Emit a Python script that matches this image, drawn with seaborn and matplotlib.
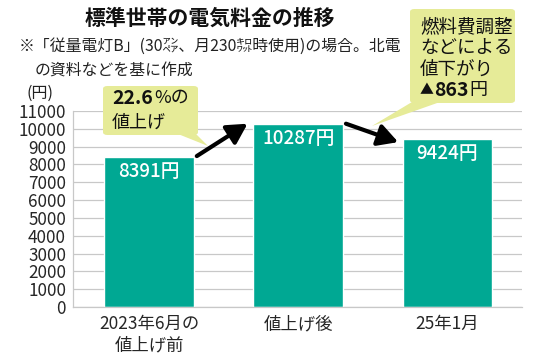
import matplotlib
matplotlib.use("Agg")
import matplotlib.pyplot as plt
import seaborn as sns
import pandas as pd
from matplotlib.patches import FancyBboxPatch, Polygon

sns.set_theme(style="white")
plt.rcParams['font.family'] = ['Noto Sans CJK JP', 'DejaVu Sans']

categories = ["2023年6月の\n値上げ前", "値上げ後", "25年1月"]
values = [8391, 10287, 9424]
value_labels = ["8391円", "10287円", "9424円"]
yticks = list(range(0, 11001, 1000))

title = "標準世帯の電気料金の推移"
note1 = "※「従量電灯B」(30㌂、月230㌗時使用)の場合。北電"
note2 = "の資料などを基に作成"
unit = "(円)"
call1_bold = "22.6"
call1_rest = "%の"
call1_line2 = "値上げ"
call2_lines = ["燃料費調整", "などによる", "値下がり"]
call2_last_sym = "▲"
call2_last_num = "863"
call2_last_unit = "円"

W, H = 550, 360
fig = plt.figure(figsize=(5.5, 3.6), dpi=100)
ax = fig.add_axes([73 / W, 1 - 307 / H, (522 - 73) / W, (307 - 111) / H])

df = pd.DataFrame({"cat": categories, "val": values})
BAR = "#00a893"
sns.barplot(data=df, x="cat", y="val", color=BAR, saturation=1, width=0.6, ax=ax)
ax.set_xlim(-0.51, 2.5)
ax.set_ylim(0, 11000)
ax.set_yticks(yticks)
ax.set_yticklabels([str(t) for t in yticks], fontsize=12.3)
ax.set_xlabel("")
ax.set_ylabel("")
ax.tick_params(axis="both", length=0, pad=5)
ax.tick_params(axis="x", labelsize=12.5, pad=6)
for lab in ax.get_xticklabels():
    lab.set_linespacing(1.25)
ax.yaxis.grid(True, color="#c8c8c8", linewidth=0.9)
ax.set_axisbelow(True)
for s in ["top", "right"]:
    ax.spines[s].set_visible(False)
ax.spines["left"].set_color("#c8c8c8")
ax.spines["bottom"].set_color("#c8c8c8")
ax.spines["left"].set_linewidth(0.9)
ax.spines["bottom"].set_linewidth(0.9)

for i, (v, lab) in enumerate(zip(values, value_labels)):
    ax.annotate(lab, xy=(i, v), xytext=(0, -3.5), textcoords="offset points",
                ha="center", va="top", color="white", fontsize=13.5, fontweight="medium")

# arrows
ax.annotate("", xy=(1 - 0.34, values[1]), xytext=(0.32, values[0] + 80),
            arrowprops=dict(arrowstyle="-|>,head_length=1.0,head_width=0.55",
                            color="black", lw=3, shrinkA=0, shrinkB=0))
ax.annotate("", xy=(2 - 0.33, values[2] - 170), xytext=(1.32, values[1]),
            arrowprops=dict(arrowstyle="-|>,head_length=1.0,head_width=0.55",
                            color="black", lw=3, shrinkA=0, shrinkB=0))

def P(x, y):
    return (x / W, 1 - y / H)

YEL = "#e6eb98"
# callout 1
b1 = FancyBboxPatch(P(103, 135), (198 - 103) / W, (135 - 86) / H,
                    boxstyle="round,pad=0,rounding_size=0.008",
                    transform=fig.transFigure, facecolor=YEL, edgecolor="none", zorder=5)
fig.patches.append(b1)
t1 = Polygon([P(178, 134), P(196, 134), P(208, 146)], closed=True,
             transform=fig.transFigure, facecolor=YEL, edgecolor="none", zorder=5)
fig.patches.append(t1)
# callout 2
b2 = FancyBboxPatch(P(410, 103), (515 - 410) / W, (103 - 9) / H,
                    boxstyle="round,pad=0,rounding_size=0.008",
                    transform=fig.transFigure, facecolor=YEL, edgecolor="none", zorder=5)
fig.patches.append(b2)
t2 = Polygon([P(412, 102), P(440, 102), P(372, 126)], closed=True,
             transform=fig.transFigure, facecolor=YEL, edgecolor="none", zorder=5)
fig.patches.append(t2)

fig.canvas.draw()
r = fig.canvas.get_renderer()

tb = fig.text(*P(112, 98), call1_bold, fontsize=14, fontweight="bold",
              ha="left", va="center", color="#111111", zorder=6)
bb = tb.get_window_extent(r)
fig.text(bb.x1 / W + 0.002, P(0, 98)[1], call1_rest, fontsize=13, ha="left",
         va="center", color="#111111", zorder=6)
fig.text(*P(112, 123), call1_line2, fontsize=13, ha="left", va="center",
         color="#111111", zorder=6)

for k, line in enumerate(call2_lines):
    fig.text(*P(420, 27 + 21.5 * k), line, fontsize=13.3, ha="left", va="center",
             color="#111111", zorder=6)
ts = fig.text(*P(420, 90), call2_last_sym, fontsize=10, ha="left", va="center",
              color="#111111", zorder=6)
sb = ts.get_window_extent(r)
tn = fig.text(sb.x1 / W, P(0, 90)[1], call2_last_num, fontsize=14, fontweight="bold",
              ha="left", va="center", color="#111111", zorder=6)
nb = tn.get_window_extent(r)
fig.text(nb.x1 / W + 0.002, P(0, 90)[1], call2_last_unit, fontsize=13, ha="left",
         va="center", color="#111111", zorder=6)

fig.text(*P(210, 18), title, fontsize=15, fontweight="bold", ha="center",
         va="center", color="#111111")
fig.text(*P(19, 46), note1, fontsize=11.4, ha="left", va="center", color="#222222")
fig.text(*P(35, 70), note2, fontsize=11.4, ha="left", va="center", color="#222222")
fig.text(*P(26, 93), unit, fontsize=11.5, ha="left", va="center", color="#222222")

fig.savefig("out.png", dpi=100, facecolor="white")
